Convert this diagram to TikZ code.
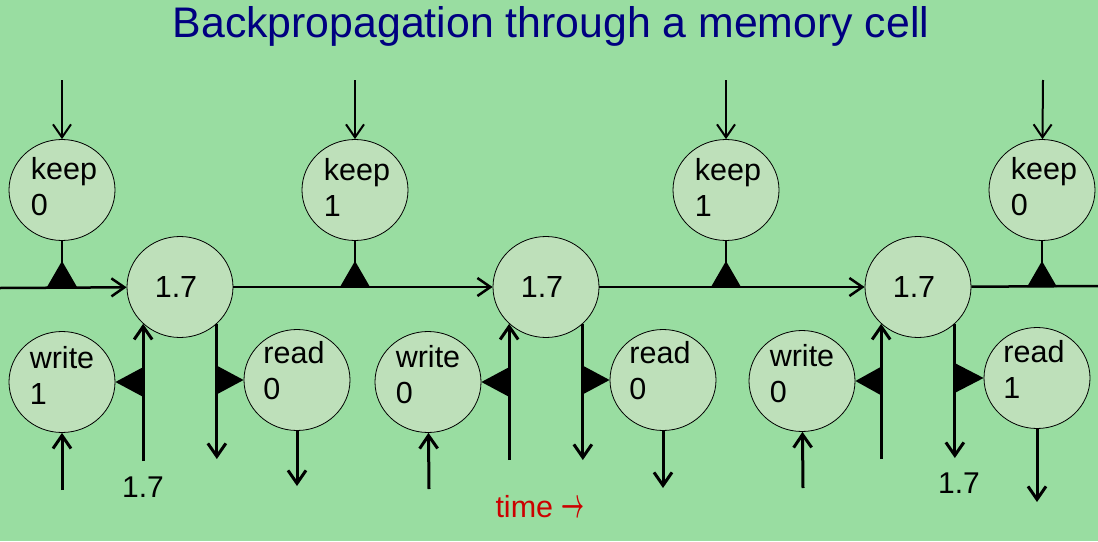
\documentclass[tikz,border=0pt]{standalone}
\usepackage{fontspec}
\setmainfont{Liberation Sans}
\usetikzlibrary{arrows.meta,positioning,shapes.geometric,calc}
\definecolor{SlideGreen}{RGB}{153,221,161}
\definecolor{UnitFill}{RGB}{190,224,186}
\definecolor{TitleNavy}{RGB}{0,0,128}
\definecolor{TimeRed}{RGB}{204,0,0}

\begin{document}
\begin{tikzpicture}[
  x=1pt, y=-1pt,
  unit/.style={ellipse, draw=black, line width=0.8pt, fill=UnitFill,
    minimum width=106pt, minimum height=101pt, inner sep=0pt, font=\fontsize{30.5}{34}\selectfont},
  tag/.style={align=left, inner sep=0pt, font=\fontsize{30.5}{36}\selectfont},
  keepunit/.style={unit, label={[tag, xshift=2pt, yshift=3pt]center:{keep\\#1}}},
  writeunit/.style={unit, label={[tag, yshift=7pt]center:{write\\#1}}},
  readunit/.style={unit, label={[tag, xshift=-3pt, yshift=9pt]center:{read\\#1}}},
  feed/.style={-{Straight Barb[length=13pt, width=18pt]}, line width=2pt},
  flow/.style={-{Straight Barb[length=13pt, width=18pt]}, line width=3pt},
  stem/.style={line width=2pt},
  gatetip/.style={fill=black},
  value/.style={font=\fontsize{30}{34}\selectfont}
]
\fill[SlideGreen] (0,0) rectangle (1098,541);
\useasboundingbox (0,0) rectangle (1098,541);

\node[anchor=base, text=TitleNavy, font=\fontsize{42.8}{48}\selectfont] (title) at (551,37) {Backpropagation through a memory cell};

% gate units
\node[keepunit=0] (keep1) at (62,190) {};
\node[keepunit=1] (keep2) at (355,190) {};
\node[keepunit=1] (keep3) at (726,190) {};
\node[keepunit=0] (keep4) at (1042,190) {};

\node[unit] (cell1) at (180,287) {1.7\kern8pt};
\node[unit] (cell2) at (546,287) {1.7\kern8pt};
\node[unit] (cell3) at (918,287) {1.7\kern8pt};

\node[writeunit=1] (write1) at (62,382) {};
\node[writeunit=0] (write2) at (428,382) {};
\node[writeunit=0] (write3) at (802,381) {};

\node[readunit=0] (read1) at (297,380) {};
\node[readunit=0] (read2) at (663,380) {};
\node[readunit=1] (read3) at (1037,378) {};

% free ends
\coordinate (kin1) at (62,80);
\coordinate (kin2) at (355,80);
\coordinate (kin3) at (726,80);
\coordinate (kin4) at (1043,80);
\coordinate (lin) at (0,288);
\coordinate (lout) at (1098,286);
\coordinate (win1) at (62,490);
\coordinate (win2) at (429,489);
\coordinate (win3) at (803,488);
\coordinate (rout1) at (297,486);
\coordinate (rout2) at (663,488);
\coordinate (rout3) at (1037,502);
\coordinate (wb1) at (cell1.225 |- 0,461);
\coordinate (wb2) at (cell2.225 |- 0,460);
\coordinate (wb3) at (cell3.225 |- 0,459);
\coordinate (rb1) at (cell1.315 |- 0,459);
\coordinate (rb2) at (cell2.315 |- 0,460);
\coordinate (rb3) at (cell3.315 |- 0,458);
\coordinate (g1) at (keep1 |- cell1);
\coordinate (g2) at (keep2 |- cell1);
\coordinate (g3) at (keep3 |- cell2);
\coordinate (g4) at (keep4 |- cell3);

% cell line
\draw[flow, line width=2.5pt] (lin) -- (cell1);
\draw[flow, line width=2.5pt] (cell1) -- (cell2);
\draw[flow, line width=2.5pt] (cell2) -- (cell3);
\draw[line width=2.5pt] (cell3) -- (lout);

\draw[feed] (kin1) -- (keep1);
\draw[feed] (kin2) -- (keep2);
\draw[feed] (kin3) -- (keep3);
\draw[feed] (kin4) -- (keep4);

\draw[stem] (keep1) -- (g1);
\draw[stem] (keep2) -- (g2);
\draw[stem] (keep3) -- (g3);
\draw[stem] (keep4) -- (g4);

\draw[flow] (win1) -- (write1);
\draw[flow] (win2) -- (write2);
\draw[flow] (win3) -- (write3);
\draw[flow] (read1) -- (rout1);
\draw[flow] (read2) -- (rout2);
\draw[flow] (read3) -- (rout3);

\draw[flow] (wb1) -- (cell1.225);
\draw[flow] (wb2) -- (cell2.225);
\draw[flow] (wb3) -- (cell3.225);
\draw[flow] (cell1.315) -- (rb1);
\draw[flow] (cell2.315) -- (rb2);
\draw[flow] (cell3.315) -- (rb3);

% gates
\fill[gatetip] (g1) ++(-15,0) -- ++(30,0) -- ++(-15,-26) -- cycle;
\fill[gatetip] (g2) ++(-15,0) -- ++(30,0) -- ++(-15,-26) -- cycle;
\fill[gatetip] (g3) ++(-15,0) -- ++(30,0) -- ++(-15,-26) -- cycle;
\fill[gatetip] (g4) ++(-15,0) -- ++(30,0) -- ++(-15,-26) -- cycle;
\fill[gatetip] (write1.east) -- ++(28,-15) -- ++(0,30) -- cycle;
\fill[gatetip] (write2.east) -- ++(28,-15) -- ++(0,30) -- cycle;
\fill[gatetip] (write3.east) -- ++(27,-15) -- ++(0,30) -- cycle;
\fill[gatetip] (read1.west) -- ++(-28,-15) -- ++(0,30) -- cycle;
\fill[gatetip] (read2.west) -- ++(-28,-15) -- ++(0,30) -- cycle;
\fill[gatetip] (read3.west) -- ++(-29,-15) -- ++(0,30) -- cycle;

\node[value] (val1) at (143,487) {1.7};
\node[value] (val2) at (959,483) {1.7};
\node[anchor=base, text=TimeRed, font=\fontsize{30.5}{34}\selectfont] (time) at (540,517) {time \scalebox{0.8}[1.7]{\boldmath$\rightarrow$}};
\end{tikzpicture}
\end{document}
